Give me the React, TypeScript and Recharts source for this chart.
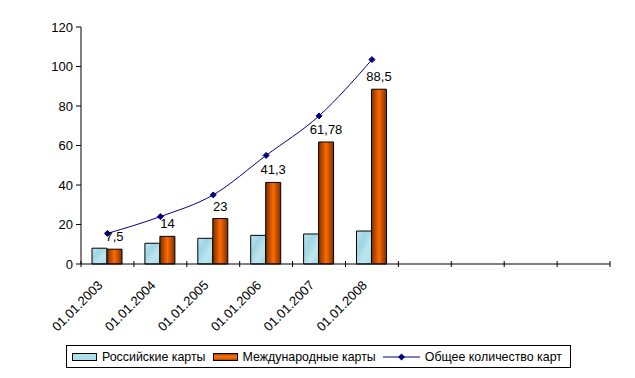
import { ComposedChart, Bar, Line, XAxis, YAxis, Legend, LabelList } from "recharts";

const categories = ["01.01.2003", "01.01.2004", "01.01.2005", "01.01.2006", "01.01.2007", "01.01.2008", "", "", "", ""];
const russianCards = [8, 10.5, 13, 14.5, 15.2, 16.7];
const internationalCards = [7.5, 14, 23, 41.3, 61.78, 88.5];
const totalCards = [15.5, 24, 35, 55, 75, 103.5];
const yTicks = [0, 20, 40, 60, 80, 100, 120];

const seriesNames = ["Российские карты", "Международные карты", "Общее количество карт"];

const FONT = "'Liberation Sans', Arial, sans-serif";
const FS = 13;
const W = 635;
const H = 378;
const MARGIN = { top: 27, right: 25, bottom: 34, left: 0 };
const Y_W = 81;
const SLOT = (W - MARGIN.right - Y_W) / categories.length;
const LINE_COLOR = "#000080";

const data = categories.map((c, i) => ({
  idx: i,
  date: c,
  ru: russianCards[i] ?? null,
  intl: internationalCards[i] ?? null,
  total: totalCards[i] ?? null,
}));

const fmt = (v: any) => (v == null ? "" : String(v).replace(".", ","));

function Diamond({ cx, cy, r = 3.5 }: { cx?: number; cy?: number; r?: number }) {
  if (cx == null || cy == null) return null;
  return (
    <path
      d={`M${cx},${cy - r}L${cx + r},${cy}L${cx},${cy + r}L${cx - r},${cy}Z`}
      fill={LINE_COLOR}
      stroke={LINE_COLOR}
    />
  );
}

function XTick(props: any) {
  const { x, y, payload } = props;
  const i = payload.value as number;
  const label = categories[i];
  const left = x - SLOT / 2;
  const tx = x - 4;
  const ty = y + 22;
  return (
    <g>
      <line x1={left} x2={left} y1={y - 3} y2={y + 3} stroke="#000" />
      {i === categories.length - 1 && (
        <line x1={left + SLOT} x2={left + SLOT} y1={y - 3} y2={y + 3} stroke="#000" />
      )}
      {label && (
        <text
          x={tx}
          y={ty}
          transform={`rotate(-45, ${tx}, ${ty})`}
          textAnchor="end"
          fontSize={FS}
          fontFamily={FONT}
          fill="#000"
        >
          {label}
        </text>
      )}
    </g>
  );
}

function LegendBox() {
  const item = { display: "flex", alignItems: "center", marginRight: 7, whiteSpace: "nowrap" } as const;
  return (
    <div
      style={{
        boxSizing: "border-box",
        width: 505,
        height: 23,
        border: "1px solid #000",
        display: "flex",
        alignItems: "center",
        paddingLeft: 5,
        fontFamily: FONT,
        fontSize: 12.4,
        color: "#000",
        background: "#fff",
      }}
    >
      <div style={item}>
        <span style={{ width: 23, height: 6, border: "1px solid #000", background: "#ADDFEA", marginRight: 5 }} />
        {seriesNames[0]}
      </div>
      <div style={item}>
        <span
          style={{
            width: 23,
            height: 6,
            border: "1px solid #000",
            background: "linear-gradient(to bottom, #B84600, #FF7A10, #B84600)",
            marginRight: 5,
          }}
        />
        {seriesNames[1]}
      </div>
      <div style={item}>
        <svg width={37} height={10} style={{ marginRight: 5 }}>
          <line x1={0} x2={37} y1={5} y2={5} stroke={LINE_COLOR} />
          <path d="M18.5,1.5L22,5L18.5,8.5L15,5Z" fill={LINE_COLOR} />
        </svg>
        {seriesNames[2]}
      </div>
    </div>
  );
}

export default function App() {
  return (
    <div style={{ position: "absolute", left: 0, top: 0, width: W, height: H, background: "#fff" }}>
      <ComposedChart width={W} height={H} data={data} margin={MARGIN} barGap={0} barSize={15}>
        <defs>
          <linearGradient id="intlFill" x1="0" y1="0" x2="1" y2="0">
            <stop offset="0%" stopColor="#7A3000" />
            <stop offset="50%" stopColor="#FF6A00" />
            <stop offset="100%" stopColor="#7A3000" />
          </linearGradient>
          <linearGradient id="ruFill" x1="0" y1="0" x2="1" y2="1">
            <stop offset="0%" stopColor="#B9E6F0" />
            <stop offset="35%" stopColor="#9FD5E3" />
            <stop offset="65%" stopColor="#BDE7EF" />
            <stop offset="100%" stopColor="#A5D9E6" />
          </linearGradient>
        </defs>
        <XAxis
          dataKey="idx"
          type="category"
          height={80}
          stroke="#000"
          tickLine={false}
          tickSize={0}
          tickMargin={0}
          interval={0}
          tick={<XTick />}
        />
        <YAxis
          width={Y_W}
          domain={[0, 120]}
          ticks={yTicks}
          interval={0}
          stroke="#000"
          tickSize={5}
          tickMargin={3}
          tick={{ fontSize: FS, fontFamily: FONT, fill: "#000" }}
        />
        <Bar dataKey="ru" name={seriesNames[0]} fill="url(#ruFill)" stroke="#000" strokeWidth={1} isAnimationActive={false} />
        <Bar dataKey="intl" name={seriesNames[1]} fill="url(#intlFill)" stroke="#000" strokeWidth={1} isAnimationActive={false}>
          <LabelList
            dataKey="intl"
            position="top"
            offset={8}
            formatter={fmt}
            style={{ fontSize: FS, fontFamily: FONT, fill: "#000" }}
          />
        </Bar>
        <Line
          dataKey="total"
          name={seriesNames[2]}
          type="monotone"
          stroke={LINE_COLOR}
          strokeWidth={1}
          dot={<Diamond />}
          activeDot={false}
          isAnimationActive={false}
        />
        <Legend
          layout="vertical"
          align="center"
          verticalAlign="middle"
          content={<LegendBox />}
          wrapperStyle={{ position: "absolute", left: 66, top: 345, width: "auto" }}
        />
      </ComposedChart>
    </div>
  );
}
